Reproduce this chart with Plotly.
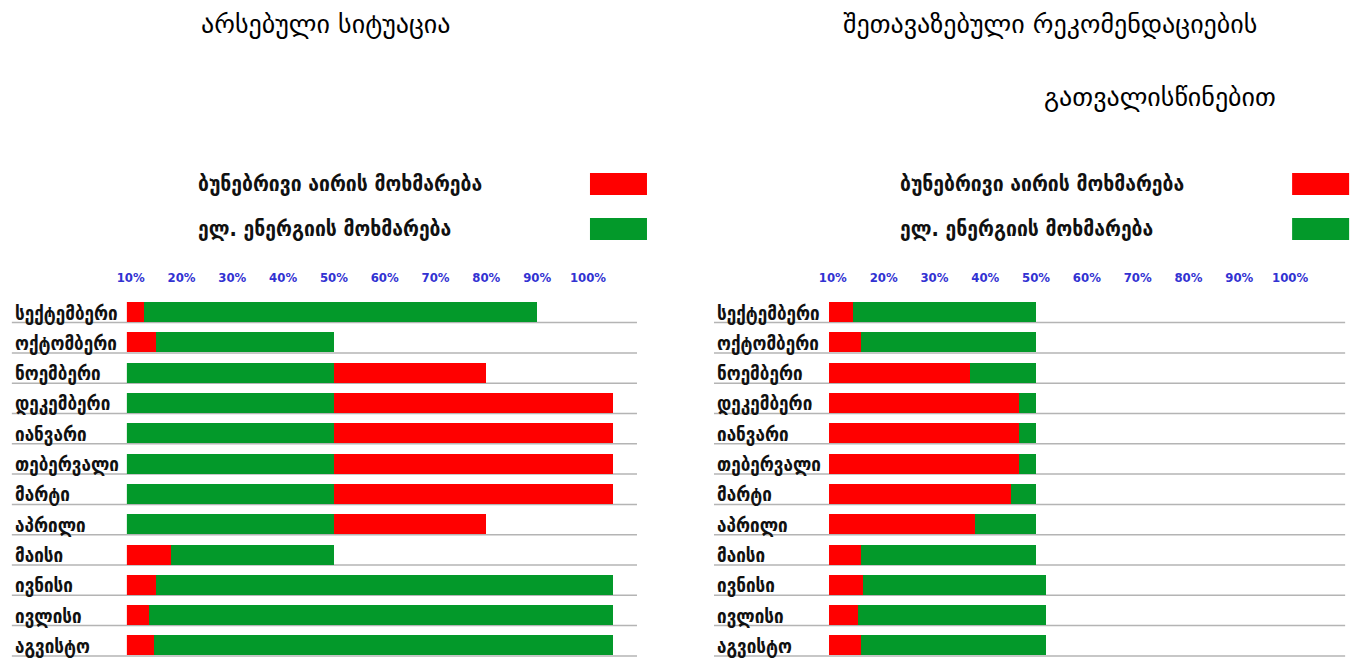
import plotly.graph_objects as go

# ---------------- data ----------------
months = ["სექტემბერი", "ოქტომბერი", "ნოემბერი", "დეკემბერი", "იანვარი", "თებერვალი",
          "მარტი", "აპრილი", "მაისი", "ივნისი", "ივლისი", "აგვისტო"]
tick_values = [10, 20, 30, 40, 50, 60, 70, 80, 90, 100]
tick_labels = ["10%", "20%", "30%", "40%", "50%", "60%", "70%", "80%", "90%", "100%"]

gas_name = "ბუნებრივი აირის მოხმარება"
elec_name = "ელ. ენერგიის მოხმარება"
title_left = "არსებული სიტუაცია"
title_right_1 = "შეთავაზებული რეკომენდაციების"
title_right_2 = "გათვალისწინებით"

# left panel (existing situation), %
cur_gas = [12.5, 15, 30, 55, 55, 55, 55, 30, 18, 15, 13.5, 14.5]
cur_elec = [77.5, 35, 50, 50, 50, 50, 50, 50, 32, 90, 91.5, 90.5]
cur_gas_first = [True, True, False, False, False, False, False, False, True, True, True, True]

# right panel (with proposed recommendations)
rec_gas = [14, 15.5, 37, 46.7, 46.7, 46.7, 45, 38, 15.5, 16, 15, 15.5]
rec_elec = [36, 34.5, 13, 3.3, 3.3, 3.3, 5, 12, 34.5, 36, 37, 36.5]
rec_gas_first = [True] * 12

# ---------------- style ----------------
RED = "#ff0000"
GREEN = "#03992a"
TICK_BLUE = "#3232d2"
LINE_GREY = "#b4b4b4"
W, H = 1353, 666
FONT = "DejaVu Sans Condensed, DejaVu Sans, sans-serif"
# horizontal offset/scale observed between page and photograph
SHOT_OFFSET, SHOT_SCALE = 10.15, 0.9924


def px(x):
    return ((x - SHOT_OFFSET) / SHOT_SCALE) / W


def py(y):
    return 1 - y / H


fig = go.Figure()


def add_panel(gas, elec, gas_first, xa, ya):
    first = [g if f else None for g, f in zip(gas, gas_first)]
    after = [None if f else g for g, f in zip(gas, gas_first)]
    common = dict(orientation="h", y=months, xaxis=xa, yaxis=ya, width=0.66,
                  marker_line_width=0, showlegend=False)
    fig.add_trace(go.Bar(x=first, name=gas_name, marker_color=RED, **common))
    fig.add_trace(go.Bar(x=elec, name=elec_name, marker_color=GREEN, **common))
    fig.add_trace(go.Bar(x=after, name=gas_name, marker_color=RED, **common))


add_panel(cur_gas, cur_elec, cur_gas_first, "x", "y")
add_panel(rec_gas, rec_elec, rec_gas_first, "x2", "y2")

ROW_TOP, ROW_PITCH = 296.85, 30.3
bottom_px = H - 1
xrange = [9.25, 109.65]
ydom = [py(bottom_px), py(ROW_TOP)]
yrange = [(bottom_px - ROW_TOP) / ROW_PITCH - 0.5, -0.5]
xcommon = dict(range=xrange, side="top", tickvals=tick_values, ticktext=tick_labels,
               showgrid=False, zeroline=False, showline=False, ticks="outside",
               ticklen=9, tickcolor="rgba(0,0,0,0)", fixedrange=True,
               tickfont=dict(family=FONT, size=13, color=TICK_BLUE, weight="bold"))
ycommon = dict(type="category", categoryarray=months, range=yrange,
               showticklabels=False, showgrid=False, zeroline=False, showline=False,
               domain=ydom, fixedrange=True)

fig.update_layout(
    width=W, height=H, margin=dict(l=0, r=0, t=0, b=0),
    paper_bgcolor="white", plot_bgcolor="rgba(0,0,0,0)",
    barmode="stack", bargap=0,
    xaxis=dict(domain=[px(127), px(637)], anchor="y", **xcommon),
    yaxis=dict(anchor="x", **ycommon),
    xaxis2=dict(domain=[px(829), px(1339)], anchor="y2", **xcommon),
    yaxis2=dict(anchor="x2", **ycommon),
    font=dict(family=FONT),
)

shapes = []
annotations = []
for offset, yref in ((0, "y"), (702, "y2")):
    x0 = 12 + offset
    x1 = 637 + offset + (6 if offset else 0)
    for i, m in enumerate(months):
        shapes.append(dict(type="line", xref="paper", yref=yref,
                           x0=px(x0), x1=px(x1), y0=i + 0.35, y1=i + 0.35,
                           line=dict(color=LINE_GREY, width=1.5), layer="below"))
        annotations.append(dict(text=m, xref="paper", yref=yref, x=px(13 + offset), y=i,
                                xanchor="left", yanchor="middle", yshift=-1, showarrow=False,
                                font=dict(family=FONT, size=19, color="#111111", weight="bold")))
    # legend block
    for name, color, yc, top, bot in ((gas_name, RED, 183, 173, 195),
                                      (elec_name, GREEN, 229, 218, 240)):
        annotations.append(dict(text=name, xref="paper", yref="paper",
                                x=px(196 + offset), y=py(yc), xanchor="left", yanchor="middle",
                                showarrow=False,
                                font=dict(family=FONT, size=21.5, color="#111111", weight="bold")))
        shapes.append(dict(type="rect", xref="paper", yref="paper",
                           x0=px(590 + offset), x1=px(min(647 + offset, 1360)),
                           y0=py(bot), y1=py(top), fillcolor=color, line_width=0))

for text, xc, yc in ((title_left, 326, 24), (title_right_1, 1050, 24), (title_right_2, 1160, 97)):
    annotations.append(dict(text=text, xref="paper", yref="paper", x=px(xc), y=py(yc),
                            xanchor="center", yanchor="middle", showarrow=False,
                            font=dict(family="DejaVu Sans, sans-serif", size=26, color="#000000")))

fig.update_layout(shapes=shapes, annotations=annotations)

fig.write_html("out.html", config={"displayModeBar": False},
               post_script="document.body.style.margin='0';document.body.style.overflow='hidden';")
